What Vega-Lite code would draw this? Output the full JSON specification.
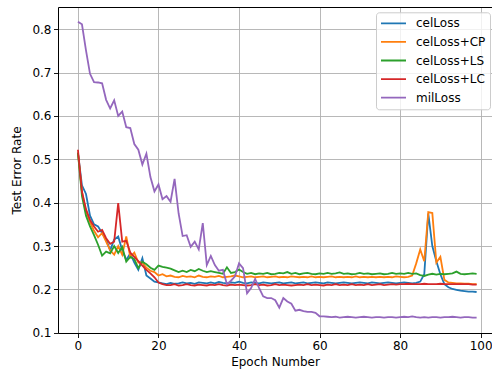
{
"$schema":"https://vega.github.io/schema/vega-lite/v6.json",
"width":434,"height":326,
"autosize":{"type":"none"},
"padding":{"left":58,"top":7,"right":0,"bottom":40},
"config":{"font":"DejaVu Sans","view":{"stroke":null},
 "axis":{"domainColor":"black","domainWidth":1,"tickColor":"black","tickWidth":0.9,"tickSize":4.5,"labelColor":"black","labelFontSize":12,"titleFontSize":12,"titleFontWeight":"normal","titleColor":"black","gridColor":"#b0b0b0","gridWidth":0.9}},
"data":{"values":[
{"epoch":0,"celLoss":0.515,"celLoss+CP":0.515,"celLoss+LS":0.515,"celLoss+LC":0.522,"milLoss":0.817},
{"epoch":1,"celLoss":0.44,"celLoss+CP":0.425,"celLoss+LS":0.415,"celLoss+LC":0.425,"milLoss":0.811},
{"epoch":2,"celLoss":0.42,"celLoss+CP":0.38,"celLoss+LS":0.37,"celLoss+LC":0.385,"milLoss":0.751},
{"epoch":3,"celLoss":0.37,"celLoss+CP":0.355,"celLoss+LS":0.345,"celLoss+LC":0.36,"milLoss":0.697},
{"epoch":4,"celLoss":0.35,"celLoss+CP":0.335,"celLoss+LS":0.325,"celLoss+LC":0.345,"milLoss":0.678},
{"epoch":5,"celLoss":0.345,"celLoss+CP":0.32,"celLoss+LS":0.303,"celLoss+LC":0.333,"milLoss":0.677},
{"epoch":6,"celLoss":0.33,"celLoss+CP":0.33,"celLoss+LS":0.278,"celLoss+LC":0.337,"milLoss":0.675},
{"epoch":7,"celLoss":0.315,"celLoss+CP":0.31,"celLoss+LS":0.287,"celLoss+LC":0.318,"milLoss":0.637},
{"epoch":8,"celLoss":0.29,"celLoss+CP":0.29,"celLoss+LS":0.283,"celLoss+LC":0.305,"milLoss":0.617},
{"epoch":9,"celLoss":0.315,"celLoss+CP":0.28,"celLoss+LS":0.3,"celLoss+LC":0.31,"milLoss":0.636},
{"epoch":10,"celLoss":0.322,"celLoss+CP":0.3,"celLoss+LS":0.284,"celLoss+LC":0.399,"milLoss":0.6},
{"epoch":11,"celLoss":0.29,"celLoss+CP":0.28,"celLoss+LS":0.298,"celLoss+LC":0.31,"milLoss":0.61},
{"epoch":12,"celLoss":0.268,"celLoss+CP":0.322,"celLoss+LS":0.264,"celLoss+LC":0.312,"milLoss":0.574},
{"epoch":13,"celLoss":0.283,"celLoss+CP":0.275,"celLoss+LS":0.275,"celLoss+LC":0.285,"milLoss":0.572},
{"epoch":14,"celLoss":0.262,"celLoss+CP":0.285,"celLoss+LS":0.27,"celLoss+LC":0.275,"milLoss":0.535},
{"epoch":15,"celLoss":0.245,"celLoss+CP":0.262,"celLoss+LS":0.249,"celLoss+LC":0.265,"milLoss":0.522},
{"epoch":16,"celLoss":0.272,"celLoss+CP":0.262,"celLoss+LS":0.264,"celLoss+LC":0.255,"milLoss":0.488},
{"epoch":17,"celLoss":0.232,"celLoss+CP":0.25,"celLoss+LS":0.258,"celLoss+LC":0.245,"milLoss":0.513},
{"epoch":18,"celLoss":0.225,"celLoss+CP":0.243,"celLoss+LS":0.25,"celLoss+LC":0.237,"milLoss":0.459},
{"epoch":19,"celLoss":0.218,"celLoss+CP":0.24,"celLoss+LS":0.245,"celLoss+LC":0.228,"milLoss":0.426},
{"epoch":20,"celLoss":0.216,"celLoss+CP":0.232,"celLoss+LS":0.255,"celLoss+LC":0.216,"milLoss":0.442},
{"epoch":21,"celLoss":0.214,"celLoss+CP":0.235,"celLoss+LS":0.252,"celLoss+LC":0.212,"milLoss":0.408},
{"epoch":22,"celLoss":0.212,"celLoss+CP":0.23,"celLoss+LS":0.25,"celLoss+LC":0.21,"milLoss":0.415},
{"epoch":23,"celLoss":0.215,"celLoss+CP":0.232,"celLoss+LS":0.248,"celLoss+LC":0.21,"milLoss":0.402},
{"epoch":24,"celLoss":0.213,"celLoss+CP":0.229,"celLoss+LS":0.244,"celLoss+LC":0.212,"milLoss":0.455},
{"epoch":25,"celLoss":0.214,"celLoss+CP":0.228,"celLoss+LS":0.24,"celLoss+LC":0.209,"milLoss":0.375},
{"epoch":26,"celLoss":0.216,"celLoss+CP":0.231,"celLoss+LS":0.243,"celLoss+LC":0.21,"milLoss":0.323},
{"epoch":27,"celLoss":0.214,"celLoss+CP":0.229,"celLoss+LS":0.24,"celLoss+LC":0.212,"milLoss":0.325},
{"epoch":28,"celLoss":0.215,"celLoss+CP":0.23,"celLoss+LS":0.245,"celLoss+LC":0.21,"milLoss":0.298},
{"epoch":29,"celLoss":0.213,"celLoss+CP":0.228,"celLoss+LS":0.242,"celLoss+LC":0.209,"milLoss":0.31},
{"epoch":30,"celLoss":0.216,"celLoss+CP":0.232,"celLoss+LS":0.247,"celLoss+LC":0.211,"milLoss":0.292},
{"epoch":31,"celLoss":0.215,"celLoss+CP":0.229,"celLoss+LS":0.243,"celLoss+LC":0.21,"milLoss":0.353},
{"epoch":32,"celLoss":0.214,"celLoss+CP":0.228,"celLoss+LS":0.24,"celLoss+LC":0.209,"milLoss":0.256},
{"epoch":33,"celLoss":0.216,"celLoss+CP":0.23,"celLoss+LS":0.242,"celLoss+LC":0.211,"milLoss":0.277},
{"epoch":34,"celLoss":0.214,"celLoss+CP":0.229,"celLoss+LS":0.24,"celLoss+LC":0.21,"milLoss":0.256},
{"epoch":35,"celLoss":0.217,"celLoss+CP":0.231,"celLoss+LS":0.238,"celLoss+LC":0.212,"milLoss":0.243},
{"epoch":36,"celLoss":0.215,"celLoss+CP":0.228,"celLoss+LS":0.236,"celLoss+LC":0.21,"milLoss":0.245},
{"epoch":37,"celLoss":0.214,"celLoss+CP":0.229,"celLoss+LS":0.251,"celLoss+LC":0.209,"milLoss":0.212},
{"epoch":38,"celLoss":0.216,"celLoss+CP":0.23,"celLoss+LS":0.238,"celLoss+LC":0.211,"milLoss":0.22},
{"epoch":39,"celLoss":0.215,"celLoss+CP":0.232,"celLoss+LS":0.24,"celLoss+LC":0.21,"milLoss":0.23},
{"epoch":40,"celLoss":0.218,"celLoss+CP":0.23,"celLoss+LS":0.246,"celLoss+LC":0.211,"milLoss":0.26},
{"epoch":41,"celLoss":0.215,"celLoss+CP":0.228,"celLoss+LS":0.24,"celLoss+LC":0.21,"milLoss":0.249},
{"epoch":42,"celLoss":0.214,"celLoss+CP":0.229,"celLoss+LS":0.236,"celLoss+LC":0.209,"milLoss":0.191},
{"epoch":43,"celLoss":0.216,"celLoss+CP":0.23,"celLoss+LS":0.238,"celLoss+LC":0.21,"milLoss":0.203},
{"epoch":44,"celLoss":0.215,"celLoss+CP":0.228,"celLoss+LS":0.235,"celLoss+LC":0.212,"milLoss":0.224},
{"epoch":45,"celLoss":0.214,"celLoss+CP":0.229,"celLoss+LS":0.237,"celLoss+LC":0.21,"milLoss":0.203},
{"epoch":46,"celLoss":0.216,"celLoss+CP":0.23,"celLoss+LS":0.236,"celLoss+LC":0.211,"milLoss":0.184},
{"epoch":47,"celLoss":0.215,"celLoss+CP":0.228,"celLoss+LS":0.238,"celLoss+LC":0.209,"milLoss":0.18},
{"epoch":48,"celLoss":0.214,"celLoss+CP":0.229,"celLoss+LS":0.235,"celLoss+LC":0.21,"milLoss":0.18},
{"epoch":49,"celLoss":0.215,"celLoss+CP":0.23,"celLoss+LS":0.236,"celLoss+LC":0.212,"milLoss":0.175},
{"epoch":50,"celLoss":0.216,"celLoss+CP":0.228,"celLoss+LS":0.238,"celLoss+LC":0.21,"milLoss":0.158},
{"epoch":51,"celLoss":0.214,"celLoss+CP":0.229,"celLoss+LS":0.237,"celLoss+LC":0.211,"milLoss":0.18},
{"epoch":52,"celLoss":0.215,"celLoss+CP":0.228,"celLoss+LS":0.24,"celLoss+LC":0.21,"milLoss":0.172},
{"epoch":53,"celLoss":0.216,"celLoss+CP":0.23,"celLoss+LS":0.236,"celLoss+LC":0.209,"milLoss":0.167},
{"epoch":54,"celLoss":0.214,"celLoss+CP":0.229,"celLoss+LS":0.238,"celLoss+LC":0.21,"milLoss":0.151},
{"epoch":55,"celLoss":0.215,"celLoss+CP":0.228,"celLoss+LS":0.235,"celLoss+LC":0.211,"milLoss":0.153},
{"epoch":56,"celLoss":0.216,"celLoss+CP":0.229,"celLoss+LS":0.237,"celLoss+LC":0.21,"milLoss":0.15},
{"epoch":57,"celLoss":0.214,"celLoss+CP":0.228,"celLoss+LS":0.238,"celLoss+LC":0.212,"milLoss":0.148},
{"epoch":58,"celLoss":0.215,"celLoss+CP":0.23,"celLoss+LS":0.236,"celLoss+LC":0.21,"milLoss":0.148},
{"epoch":59,"celLoss":0.216,"celLoss+CP":0.228,"celLoss+LS":0.235,"celLoss+LC":0.211,"milLoss":0.146},
{"epoch":60,"celLoss":0.215,"celLoss+CP":0.229,"celLoss+LS":0.237,"celLoss+LC":0.21,"milLoss":0.138},
{"epoch":61,"celLoss":0.214,"celLoss+CP":0.228,"celLoss+LS":0.236,"celLoss+LC":0.209,"milLoss":0.138},
{"epoch":62,"celLoss":0.216,"celLoss+CP":0.229,"celLoss+LS":0.238,"celLoss+LC":0.211,"milLoss":0.137},
{"epoch":63,"celLoss":0.215,"celLoss+CP":0.23,"celLoss+LS":0.236,"celLoss+LC":0.21,"milLoss":0.136},
{"epoch":64,"celLoss":0.214,"celLoss+CP":0.228,"celLoss+LS":0.237,"celLoss+LC":0.212,"milLoss":0.137},
{"epoch":65,"celLoss":0.215,"celLoss+CP":0.229,"celLoss+LS":0.239,"celLoss+LC":0.21,"milLoss":0.135},
{"epoch":66,"celLoss":0.216,"celLoss+CP":0.228,"celLoss+LS":0.236,"celLoss+LC":0.211,"milLoss":0.136},
{"epoch":67,"celLoss":0.215,"celLoss+CP":0.229,"celLoss+LS":0.237,"celLoss+LC":0.21,"milLoss":0.137},
{"epoch":68,"celLoss":0.214,"celLoss+CP":0.228,"celLoss+LS":0.235,"celLoss+LC":0.212,"milLoss":0.136},
{"epoch":69,"celLoss":0.215,"celLoss+CP":0.23,"celLoss+LS":0.236,"celLoss+LC":0.21,"milLoss":0.135},
{"epoch":70,"celLoss":0.216,"celLoss+CP":0.228,"celLoss+LS":0.238,"celLoss+LC":0.211,"milLoss":0.136},
{"epoch":71,"celLoss":0.215,"celLoss+CP":0.229,"celLoss+LS":0.236,"celLoss+LC":0.21,"milLoss":0.137},
{"epoch":72,"celLoss":0.214,"celLoss+CP":0.228,"celLoss+LS":0.237,"celLoss+LC":0.212,"milLoss":0.136},
{"epoch":73,"celLoss":0.216,"celLoss+CP":0.229,"celLoss+LS":0.235,"celLoss+LC":0.21,"milLoss":0.135},
{"epoch":74,"celLoss":0.215,"celLoss+CP":0.228,"celLoss+LS":0.236,"celLoss+LC":0.211,"milLoss":0.136},
{"epoch":75,"celLoss":0.214,"celLoss+CP":0.229,"celLoss+LS":0.237,"celLoss+LC":0.212,"milLoss":0.136},
{"epoch":76,"celLoss":0.215,"celLoss+CP":0.228,"celLoss+LS":0.235,"celLoss+LC":0.21,"milLoss":0.135},
{"epoch":77,"celLoss":0.216,"celLoss+CP":0.229,"celLoss+LS":0.236,"celLoss+LC":0.211,"milLoss":0.136},
{"epoch":78,"celLoss":0.215,"celLoss+CP":0.228,"celLoss+LS":0.238,"celLoss+LC":0.212,"milLoss":0.136},
{"epoch":79,"celLoss":0.214,"celLoss+CP":0.23,"celLoss+LS":0.236,"celLoss+LC":0.211,"milLoss":0.135},
{"epoch":80,"celLoss":0.215,"celLoss+CP":0.229,"celLoss+LS":0.237,"celLoss+LC":0.212,"milLoss":0.136},
{"epoch":81,"celLoss":0.216,"celLoss+CP":0.228,"celLoss+LS":0.236,"celLoss+LC":0.212,"milLoss":0.137},
{"epoch":82,"celLoss":0.215,"celLoss+CP":0.229,"celLoss+LS":0.238,"celLoss+LC":0.213,"milLoss":0.136},
{"epoch":83,"celLoss":0.214,"celLoss+CP":0.232,"celLoss+LS":0.236,"celLoss+LC":0.212,"milLoss":0.138},
{"epoch":84,"celLoss":0.215,"celLoss+CP":0.26,"celLoss+LS":0.237,"celLoss+LC":0.212,"milLoss":0.136},
{"epoch":85,"celLoss":0.218,"celLoss+CP":0.292,"celLoss+LS":0.233,"celLoss+LC":0.212,"milLoss":0.135},
{"epoch":86,"celLoss":0.235,"celLoss+CP":0.265,"celLoss+LS":0.231,"celLoss+LC":0.213,"milLoss":0.136},
{"epoch":87,"celLoss":0.375,"celLoss+CP":0.378,"celLoss+LS":0.234,"celLoss+LC":0.212,"milLoss":0.135},
{"epoch":88,"celLoss":0.3,"celLoss+CP":0.376,"celLoss+LS":0.236,"celLoss+LC":0.212,"milLoss":0.136},
{"epoch":89,"celLoss":0.265,"celLoss+CP":0.262,"celLoss+LS":0.234,"celLoss+LC":0.212,"milLoss":0.136},
{"epoch":90,"celLoss":0.235,"celLoss+CP":0.275,"celLoss+LS":0.236,"celLoss+LC":0.213,"milLoss":0.135},
{"epoch":91,"celLoss":0.212,"celLoss+CP":0.222,"celLoss+LS":0.235,"celLoss+LC":0.212,"milLoss":0.136},
{"epoch":92,"celLoss":0.205,"celLoss+CP":0.216,"celLoss+LS":0.236,"celLoss+LC":0.212,"milLoss":0.136},
{"epoch":93,"celLoss":0.201,"celLoss+CP":0.215,"celLoss+LS":0.237,"celLoss+LC":0.212,"milLoss":0.137},
{"epoch":94,"celLoss":0.199,"celLoss+CP":0.214,"celLoss+LS":0.241,"celLoss+LC":0.212,"milLoss":0.136},
{"epoch":95,"celLoss":0.197,"celLoss+CP":0.214,"celLoss+LS":0.236,"celLoss+LC":0.212,"milLoss":0.135},
{"epoch":96,"celLoss":0.196,"celLoss+CP":0.213,"celLoss+LS":0.235,"celLoss+LC":0.212,"milLoss":0.136},
{"epoch":97,"celLoss":0.195,"celLoss+CP":0.213,"celLoss+LS":0.236,"celLoss+LC":0.212,"milLoss":0.136},
{"epoch":98,"celLoss":0.195,"celLoss+CP":0.212,"celLoss+LS":0.237,"celLoss+LC":0.211,"milLoss":0.135},
{"epoch":99,"celLoss":0.194,"celLoss+CP":0.212,"celLoss+LS":0.236,"celLoss+LC":0.211,"milLoss":0.135}
]},
"transform":[{"fold":["celLoss","celLoss+CP","celLoss+LS","celLoss+LC","milLoss"],"as":["series","rate"]}],
"layer":[
 {"mark":{"type":"line","strokeWidth":1.8,"clip":true},
  "encoding":{
   "x":{"field":"epoch","type":"quantitative","scale":{"domain":[-4.95,102.82],"nice":false,"zero":false},
        "axis":{"values":[0,20,40,60,80,100],"title":"Epoch Number","labelPadding":3,"titlePadding":5,"grid":true}},
   "y":{"field":"rate","type":"quantitative","scale":{"domain":[0.0995,0.851],"nice":false,"zero":false},
        "axis":{"values":[0.1,0.2,0.3,0.4,0.5,0.6,0.7,0.8],"format":".1f","title":"Test Error Rate","labelPadding":2.5,"titlePadding":8,"grid":true}},
   "color":{"field":"series","type":"nominal",
        "scale":{"domain":["celLoss","celLoss+CP","celLoss+LS","celLoss+LC","milLoss"],"range":["#1f77b4","#ff7f0e","#2ca02c","#d62728","#9467bd"]},
        "legend":{"title":null,"orient":"none","legendX":318,"legendY":5.3,"symbolType":"stroke","symbolSize":625,"symbolStrokeWidth":1.8,"clipHeight":14,"labelFontSize":12,"labelColor":"black","labelOffset":9,"padding":4,"rowPadding":4.6,"fillColor":"rgba(255,255,255,0.8)","strokeColor":"#cccccc","cornerRadius":3}}
  }},
 {"mark":{"type":"line","opacity":0},
  "encoding":{
   "x":{"field":"epoch","type":"quantitative","axis":{"orient":"top","labels":false,"ticks":false,"grid":false,"title":null,"domain":true}},
   "y":{"field":"rate","type":"quantitative"},
   "detail":{"field":"series"}
  }}
],
"resolve":{"axis":{"x":"independent"}}
}
